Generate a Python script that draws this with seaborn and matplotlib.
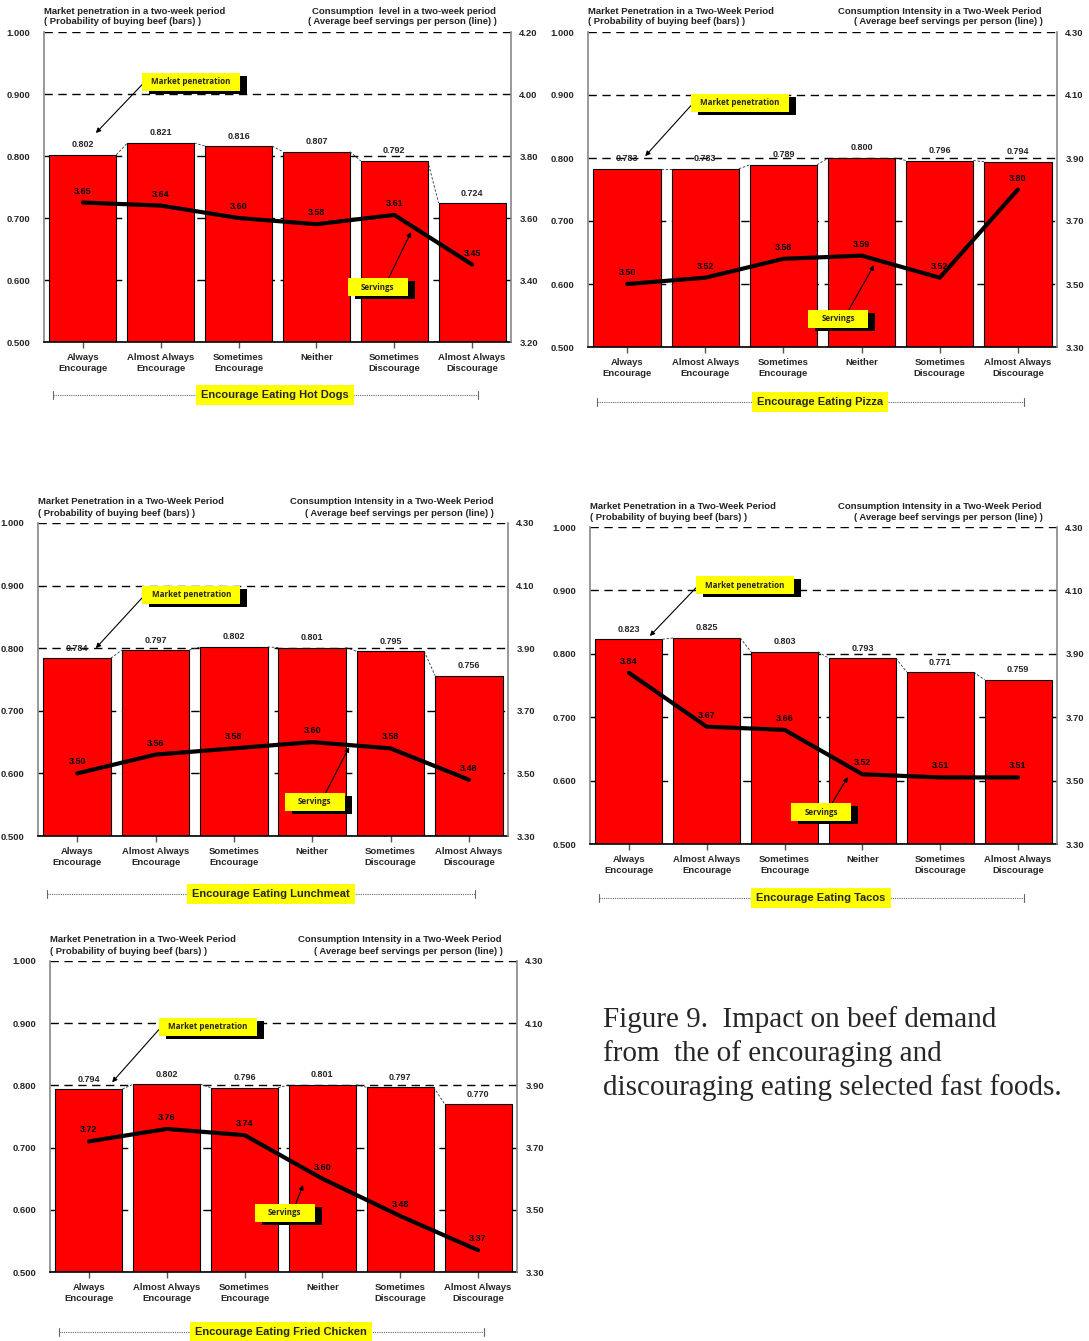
import numpy as np
import pandas as pd
import matplotlib
matplotlib.use("Agg")
import matplotlib.pyplot as plt
from matplotlib.patches import Rectangle
import seaborn as sns

# ---------------------------------------------------------------- data
categories = ["Always\nEncourage", "Almost Always\nEncourage", "Sometimes\nEncourage",
              "Neither", "Sometimes\nDiscourage", "Almost Always\nDiscourage"]

hotdog_penetration = [0.802, 0.821, 0.816, 0.807, 0.792, 0.724]
hotdog_servings = [3.65, 3.64, 3.60, 3.58, 3.61, 3.45]

pizza_penetration = [0.783, 0.783, 0.789, 0.800, 0.796, 0.794]
pizza_servings = [3.50, 3.52, 3.58, 3.59, 3.52, 3.80]

lunchmeat_penetration = [0.784, 0.797, 0.802, 0.801, 0.795, 0.756]
lunchmeat_servings = [3.50, 3.56, 3.58, 3.60, 3.58, 3.48]

tacos_penetration = [0.823, 0.825, 0.803, 0.793, 0.771, 0.759]
tacos_servings = [3.84, 3.67, 3.66, 3.52, 3.51, 3.51]

chicken_penetration = [0.794, 0.802, 0.796, 0.801, 0.797, 0.770]
chicken_servings = [3.72, 3.76, 3.74, 3.60, 3.48, 3.37]

left_ticks = [0.5, 0.6, 0.7, 0.8, 0.9, 1.0]
hotdog_right_range = (3.20, 4.20)
other_right_range = (3.30, 4.30)

# ---------------------------------------------------------------- style
sns.set_theme(style="white")
plt.rcParams["font.family"] = ["Liberation Sans", "DejaVu Sans"]
plt.rcParams["font.weight"] = "bold"
plt.rcParams["axes.labelweight"] = "bold"

W, H = 1089, 1341
fig = plt.figure(figsize=(W / 100, H / 100), dpi=100)
fig.patch.set_facecolor("white")

DASH = (0, (6, 4))
BAR_W = 0.86

panels = [
    dict(title="Encourage Eating Hot Dogs", pen=hotdog_penetration, srv=hotdog_servings,
         rng=hotdog_right_range, box=(44, 32, 511, 342), lower=True,
         mp=(0.315, 0.839), mp_t=(0.111, 0.674), sv=(0.715, 0.177), sv_t=(0.786, 0.355),
         lab_y=-0.171),
    dict(title="Encourage Eating Pizza", pen=pizza_penetration, srv=pizza_servings,
         rng=other_right_range, box=(588, 32, 1057, 347), lower=False,
         mp=(0.324, 0.775), mp_t=(0.122, 0.606), sv=(0.533, 0.089), sv_t=(0.61, 0.26),
         lab_y=-0.175),
    dict(title="Encourage Eating Lunchmeat", pen=lunchmeat_penetration, srv=lunchmeat_servings,
         rng=other_right_range, box=(38, 523, 508, 836), lower=False,
         mp=(0.326, 0.77), mp_t=(0.123, 0.60), sv=(0.589, 0.109), sv_t=(0.662, 0.284),
         lab_y=-0.185),
    dict(title="Encourage Eating Tacos", pen=tacos_penetration, srv=tacos_servings,
         rng=other_right_range, box=(590, 527, 1057, 844), lower=False,
         mp=(0.332, 0.817), mp_t=(0.128, 0.656), sv=(0.495, 0.10), sv_t=(0.552, 0.211),
         lab_y=-0.17),
    dict(title="Encourage Eating Fried Chicken", pen=chicken_penetration, srv=chicken_servings,
         rng=other_right_range, box=(50, 961, 517, 1272), lower=False,
         mp=(0.338, 0.788), mp_t=(0.133, 0.61), sv=(0.503, 0.19), sv_t=(0.542, 0.28),
         lab_y=-0.193),
]


def callout(ax, center, text, wpx, hpx, axw, axh):
    """Yellow label box with a black drop shadow, in axes-fraction coordinates."""
    w, h = wpx / axw, hpx / axh
    x0, y0 = center[0] - w / 2, center[1] - h / 2
    ax.add_patch(Rectangle((x0 + 7 / axw, y0 - 3 / axh), w, h, transform=ax.transAxes,
                           facecolor="black", edgecolor="none", clip_on=False, zorder=20))
    ax.add_patch(Rectangle((x0, y0), w, h, transform=ax.transAxes,
                           facecolor="#ffff00", edgecolor="none", clip_on=False, zorder=21))
    ax.text(center[0], center[1], text, transform=ax.transAxes, ha="center", va="center",
            fontsize=5.8, fontweight="bold", family=["Open Sans", "DejaVu Sans"],
            zorder=22)
    return x0, y0, w, h


for p in panels:
    L, T, R, B = p["box"]
    axw, axh = R - L, B - T
    ax = fig.add_axes([L / W, 1 - B / H, axw / W, axh / H])
    df = pd.DataFrame({"category": categories, "penetration": p["pen"]})

    sns.barplot(data=df, x="category", y="penetration", color="#ff0000", saturation=1,
                width=BAR_W, edgecolor="black", linewidth=0.8, ax=ax, zorder=2)
    ax.set_xlim(-0.5, 5.5)
    ax.set_ylim(0.5, 1.0)
    ax.set_yticks(left_ticks)
    ax.set_yticklabels([f"{t:.3f}" for t in left_ticks], fontsize=6.8, fontweight="bold")
    ax.set_xticks(range(len(categories)))
    ax.set_xticklabels(categories, fontsize=6.8, fontweight="bold", linespacing=1.3)
    ax.set_xlabel("")
    ax.set_ylabel("")
    ax.yaxis.grid(True, linestyle=DASH, color="black", linewidth=1.0)
    ax.set_axisbelow(True)
    ax.tick_params(axis="x", bottom=True, length=4, width=1, color="#555555", pad=4)
    ax.tick_params(axis="y", left=False, length=0, pad=10)
    for s in ["top", "right"]:
        ax.spines[s].set_visible(False)
    ax.spines["left"].set_color("#888888")
    ax.spines["left"].set_linewidth(1.2)
    ax.spines["bottom"].set_color("black")
    ax.spines["bottom"].set_linewidth(1.2)

    # value labels above the bars and connectors between bar tops
    pen = p["pen"]
    for i, v in enumerate(pen):
        ax.annotate(f"{v:.3f}", xy=(i, v), xytext=(0, 4), textcoords="offset points",
                    ha="center", va="bottom", fontsize=6.5, fontweight="bold", zorder=5)
        if i < len(pen) - 1:
            ax.plot([i + BAR_W / 2, i + 1 - BAR_W / 2], [v, pen[i + 1]],
                    linestyle=(0, (3, 2)), color="#333333", linewidth=0.6, zorder=3)

    # servings line on the secondary axis
    ax2 = ax.twinx()
    lo, hi = p["rng"]
    sdf = pd.DataFrame({"pos": np.arange(len(categories)), "servings": p["srv"]})
    sns.lineplot(data=sdf, x="pos", y="servings", color="black", linewidth=3, ax=ax2,
                 zorder=6)
    ax2.set_ylim(lo, hi)
    rt = np.round(np.linspace(lo, hi, 6), 2)
    ax2.set_yticks(rt)
    ax2.set_yticklabels([f"{t:.2f}" for t in rt], fontsize=6.8, fontweight="bold")
    ax2.set_ylabel("")
    ax2.set_xlabel("")
    ax2.tick_params(axis="y", right=False, length=0, pad=6)
    ax2.grid(False)
    for s in ["top", "left", "bottom"]:
        ax2.spines[s].set_visible(False)
    ax2.spines["right"].set_color("#888888")
    ax2.spines["right"].set_linewidth(1.2)
    for i, v in enumerate(p["srv"]):
        ax2.annotate(f"{v:.2f}", xy=(i, v), xytext=(0, 5), textcoords="offset points",
                     ha="center", va="bottom", fontsize=6.5, fontweight="bold",
                     color="black", zorder=7)

    # headings above the plot
    if p["lower"]:
        h_left = "Market penetration in a two-week period"
        h_right = "Consumption  level in a two-week period"
    else:
        h_left = "Market Penetration in a Two-Week Period"
        h_right = "Consumption Intensity in a Two-Week Period"
    y1, y2 = 1 + 21 / axh, 1 + 10 / axh
    hk = dict(transform=ax2.transAxes, va="center", fontsize=6.8, fontweight="bold",
              color="#222222")
    ax2.text(0.0, y1, h_left, ha="left", **hk)
    ax2.text(0.0, y2, "( Probability of buying beef (bars) )", ha="left", **hk)
    ax2.text(1 - 15 / axw, y1, h_right, ha="right", **hk)
    ax2.text(1 - 14 / axw, y2, "( Average beef servings per person (line) )", ha="right", **hk)

    # call-out boxes with arrows
    bx, by, bw, bh = callout(ax2, p["mp"], "Market penetration", 98, 18, axw, axh)
    ax2.annotate("", xy=p["mp_t"], xytext=(bx, by + bh * 0.35), xycoords="axes fraction",
                 textcoords="axes fraction",
                 arrowprops=dict(arrowstyle="-|>", color="black", lw=0.8,
                                 mutation_scale=7, shrinkA=0, shrinkB=0), zorder=19)
    bx, by, bw, bh = callout(ax2, p["sv"], "Servings", 60, 18, axw, axh)
    ax2.annotate("", xy=p["sv_t"], xytext=(bx + bw * 0.68, by + bh), xycoords="axes fraction",
                 textcoords="axes fraction",
                 arrowprops=dict(arrowstyle="-|>", color="black", lw=0.8,
                                 mutation_scale=7, shrinkA=0, shrinkB=0), zorder=19)

    # bracket with the panel label underneath the categories
    ly = p["lab_y"]
    xa, xb = 0.02, 0.93
    ax2.plot([xa, xb], [ly, ly], transform=ax2.transAxes, clip_on=False,
             color="#666666", linestyle=(0, (1, 1)), linewidth=0.8)
    for xe in (xa, xb):
        ax2.plot([xe, xe], [ly - 4 / axh, ly + 4 / axh], transform=ax2.transAxes,
                 clip_on=False, color="#666666", linewidth=0.8)
    ax2.text(0.495, ly, p["title"], transform=ax2.transAxes, ha="center", va="center",
             fontsize=8, fontweight="bold", zorder=10,
             bbox=dict(boxstyle="square,pad=0.45", facecolor="#ffff00", edgecolor="none"))

# caption
caption = ["Figure 9.  Impact on beef demand",
           "from  the of encouraging and",
           "discouraging eating selected fast foods."]
for k, line in enumerate(caption):
    fig.text(603 / W, 1 - (1020 + 34 * k) / H, line, ha="left", va="center",
             fontsize=21, fontweight="normal", family=["Liberation Serif", "DejaVu Serif"])

fig.savefig("out.png", dpi=100, facecolor="white")
